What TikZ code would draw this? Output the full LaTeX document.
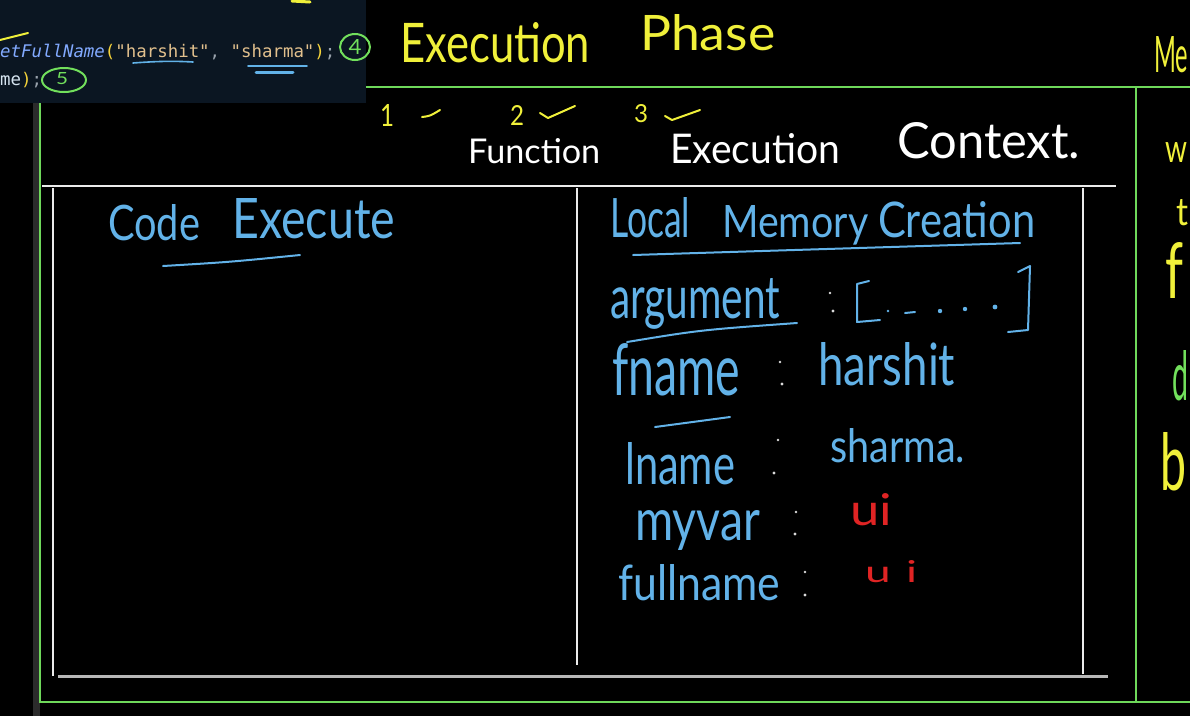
\documentclass[tikz,border=0pt]{standalone}
\usepackage{fontspec}
\setmainfont{Lato}
\newfontfamily\codefont{DejaVu Sans Mono}
\definecolor{hblue}{HTML}{62B2E8}
\definecolor{hyellow}{HTML}{F0F03A}
\definecolor{hgreen}{HTML}{72E05C}
\definecolor{lgreen}{HTML}{6ED85A}
\definecolor{hred}{HTML}{E02424}
\definecolor{panel}{HTML}{0B1622}
\definecolor{strip}{HTML}{2B2B2B}
\definecolor{cfunc}{HTML}{82AAFF}
\definecolor{cstr}{HTML}{E2C08D}
\definecolor{cparen}{HTML}{F5D33A}
\definecolor{cpunct}{HTML}{9AA3AD}
\definecolor{cvar}{HTML}{D6E4F0}
\newcommand\hw[3]{\resizebox{#1pt}{#2pt}{#3}}
\begin{document}
\begin{tikzpicture}[x=1pt,y=-1pt,
  hand/.style={inner sep=0pt, anchor=base west},
  code/.style={inner sep=0pt, anchor=base west, font=\codefont\fontsize{17.4}{18}\selectfont},
  boxline/.style={draw=lgreen, line width=2.6pt},
  wline/.style={draw=white!92!black, line width=2.2pt},
  uline/.style={draw=hblue, line width=2pt, line cap=round},
  stroke/.style={line width=2pt, line cap=round, line join=round},
  dot/.style={fill=white!85!black}]
\useasboundingbox (0,0) rectangle (1190,716);
\fill[black] (0,0) rectangle (1190,716);
% code panel and side strip
\fill[panel] (0,0) rectangle (366,103);
\fill[strip] (33,103) rectangle (40,716);
% code text
\node[code] (c1) at (0,57) {\textcolor{cfunc}{\itshape etFullName}\textcolor{cparen}{(}\textcolor{cstr}{"harshit"}\textcolor{cpunct}{, }\textcolor{cstr}{"sharma"}\textcolor{cparen}{)}\textcolor{cpunct}{;}};
\node[code] (c2) at (0,85) {\textcolor{cvar}{me}\textcolor{cparen}{)}\textcolor{cpunct}{;}};
\draw[uline, line width=1.6pt] (133,63) .. controls (160,61) and (175,61) .. (193,62);
\draw[uline, line width=1.6pt] (248,66) -- (307,66);
\draw[uline, line width=3pt] (256,72) -- (293,72);
% green circled numbers
\draw[hgreen, stroke] (355,47) ellipse [x radius=15, y radius=13];
\node[hand, text=hgreen, anchor=center] (n4) at (355,47) {\hw{13}{15}{4}};
\draw[hgreen, stroke] (64,80) ellipse [x radius=22, y radius=12];
\node[hand, text=hgreen, anchor=center] (n5) at (62,79) {\hw{12}{12}{5}};
% stray yellow marks
\draw[hyellow, stroke] (0,40) -- (28,33);
\draw[hyellow, stroke, line width=3pt] (292,1) -- (310,2);
% frames
\draw[boxline] (366,87) -- (1190,87);
\draw[boxline] (40,103) -- (40,702) -- (1190,702);
\draw[boxline] (1136,87) -- (1136,702);
\draw[wline] (42,186) -- (1116,186);
\draw[wline, line width=2pt] (53,188) -- (53,676);
\draw[wline, line width=2pt] (1083,188) -- (1083,674);
\draw[wline, line width=2pt] (577,188) -- (577,665);
\draw[draw=white!72!black, line width=3pt] (58,676) -- (1108,676);
% title
\node[hand, text=hyellow] (tex) at (400,62) {\hw{190}{40}{Execution}};
\node[hand, text=hyellow] (tph) at (640,50) {\hw{135}{36}{Phase}};
% steps
\node[hand, text=hyellow] (s1) at (380,126) {\hw{14}{22}{1}};
\draw[hyellow, stroke] (422,117) .. controls (430,116) .. (440,110);
\node[hand, text=hyellow] (s2) at (510,125) {\hw{14}{20}{2}};
\draw[hyellow, stroke] (540,113) -- (548,118) -- (575,106);
\node[hand, text=hyellow] (s3) at (634,122) {\hw{14}{18}{3}};
\draw[hyellow, stroke] (665,116) -- (672,120) -- (700,110);
% Function Execution Context
\node[hand, text=white] (fn) at (468,163) {\hw{132}{25}{Function}};
\node[hand, text=white] (fe) at (670,163) {\hw{170}{30}{Execution}};
\node[hand, text=white] (fc) at (897,158) {\hw{183}{36}{Context.}};
% Code Execute
\node[hand, text=hblue] (ce1) at (108,240) {\hw{92}{36}{Code}};
\node[hand, text=hblue] (ce2) at (232,238) {\hw{163}{40}{Execute}};
\draw[uline] (163,266) .. controls (230,262) .. (300,255);
% Local Memory Creation
\node[hand, text=hblue] (lm1) at (610,237) {\hw{80}{40}{Local}};
\node[hand, text=hblue] (lm2) at (722,237) {\hw{146}{32}{Memory}};
\node[hand, text=hblue] (lm3) at (878,237) {\hw{157}{36}{Creation}};
\draw[uline] (633,255) -- (1020,243);
% argument
\node[hand, text=hblue] (ar) at (610,318) {\hw{170}{40}{argument}};
\draw[uline] (627,342) .. controls (700,330) .. (797,323);
\fill[dot] (830,293) circle (1.3);
\fill[dot] (833,311) circle (1.6);
\draw[hblue, stroke] (869,281) -- (857,284) -- (857,322) -- (880,320);
\fill[hblue] (888,311) circle (1.4);
\draw[hblue, stroke] (905,313) -- (915,312);
\fill[hblue] (940,311) circle (2.2);
\fill[hblue] (965,309) circle (2.2);
\fill[hblue] (995,307) circle (2.4);
\draw[hblue, stroke] (1018,272) -- (1030,266) -- (1028,330) -- (1008,332);
% fname
\node[hand, text=hblue] (fnm) at (612,395) {\hw{128}{52}{fname}};
\draw[uline] (655,427) -- (730,417);
\fill[dot] (780,362) circle (1.3);
\fill[dot] (782,384) circle (1.6);
\node[hand, text=hblue] (hs) at (818,385) {\hw{137}{43}{harshit}};
% lname
\node[hand, text=hblue] (lnm) at (625,484) {\hw{110}{42}{lname}};
\fill[dot] (778,440) circle (1.3);
\fill[dot] (774,473) circle (1.6);
\node[hand, text=hblue] (sh) at (830,462) {\hw{135}{34}{sharma.}};
% myvar
\node[hand, text=hblue] (mv) at (635,540) {\hw{125}{30}{myvar}};
\fill[dot] (796,512) circle (1.3);
\fill[dot] (795,534) circle (1.6);
\node[hand, text=hred] (u1) at (850,525) {\hw{42}{32}{ui}};
% fullname
\node[hand, text=hblue] (fl) at (618,600) {\hw{162}{36}{fullname}};
\fill[dot] (805,572) circle (1.3);
\fill[dot] (805,595) circle (1.6);
\node[hand, text=hred] (u2) at (865,582) {\hw{52}{22}{u\,\,i}};
% right column fragments
\node[hand, text=hyellow] (r1) at (1154,72) {\hw{34}{36}{Me}};
\node[hand, text=hyellow] (r2) at (1165,162) {\hw{22}{20}{w}};
\node[hand, text=hyellow] (r3) at (1176,225) {\hw{12}{26}{t}};
\node[hand, text=hyellow] (r4) at (1165,298) {\hw{18}{56}{f}};
\node[hand, text=hgreen] (r5) at (1172,400) {\hw{16}{50}{d}};
\node[hand, text=hyellow] (r6) at (1160,490) {\hw{26}{58}{b}};
\end{tikzpicture}
\end{document}
